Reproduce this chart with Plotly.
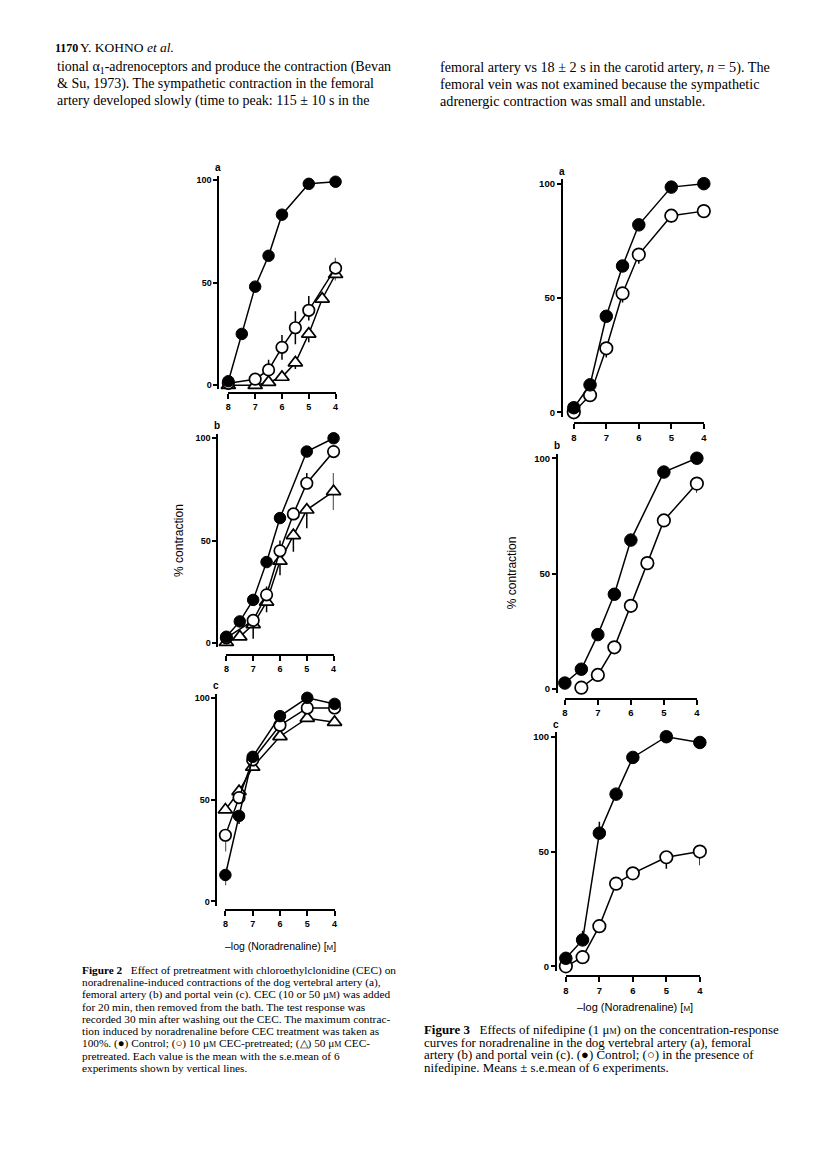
import plotly.graph_objects as go

# page is rendered inside a body with an 8px margin -> shift everything by 8px
OFF = 8
FW, FH = 816 - OFF, 1156 - OFF

# ---------------- data ----------------
# Figure 2a  vertebral artery
f2a_ctrl_x = [8, 7.5, 7, 6.5, 6, 5, 4]
f2a_ctrl_y = [2, 25, 48, 63, 83, 98, 99]
f2a_c10_x = [8, 7, 6.5, 6, 5.5, 5, 4]
f2a_c10_y = [1, 3, 7.5, 18.5, 28, 36.5, 57]
f2a_c10_ep = [0, 0, 5, 6, 8, 7, 5]
f2a_c10_em = [0, 0, 0, 6, 8, 5, 0]
f2a_c50_x = [8, 7, 6.5, 6, 5.5, 5, 4.5, 4]
f2a_c50_y = [0, 0, 1.5, 4, 11, 25, 42, 54]
f2a_c50_ep = [0, 0, 0, 0, 0, 0, 0, 3]
f2a_c50_em = [0, 0, 0, 0, 3, 4, 0, 3]

# Figure 2b  femoral artery
f2b_ctrl_x = [8, 7.5, 7, 6.5, 6, 5, 4]
f2b_ctrl_y = [3, 10.5, 21, 39.5, 61, 93.5, 100]
f2b_c10_x = [8, 7, 6.5, 6, 5.5, 5, 4]
f2b_c10_y = [2.5, 11, 23.5, 45, 63, 78, 93.5]
f2b_c10_ep = [0, 0, 4, 5, 0, 5, 0]
f2b_c10_em = [0, 0, 0, 0, 0, 0, 0]
f2b_c50_x = [8, 7.5, 7, 6.5, 6, 5.5, 5, 4]
f2b_c50_y = [0.3, 3, 9, 20, 40, 52.5, 65, 74]
f2b_c50_ep = [0, 0, 0, 0, 0, 0, 0, 9]
f2b_c50_em = [0, 0, 7, 5, 7, 8, 9, 9]

# Figure 2c  portal vein
f2c_ctrl_x = [8, 7.5, 7, 6, 5, 4]
f2c_ctrl_y = [13, 42, 71, 91, 100, 97]
f2c_ctrl_ep = [0, 0, 0, 0, 0, 0]
f2c_ctrl_em = [5, 4, 0, 0, 0, 0]
f2c_c10_x = [8, 7.5, 7, 6, 5, 4]
f2c_c10_y = [32.5, 51, 69.5, 86.5, 95, 95]
f2c_c10_ep = [0, 0, 0, 0, 0, 0]
f2c_c10_em = [8, 0, 0, 0, 0, 0]
f2c_c50_x = [8, 7.5, 7, 6, 5, 4]
f2c_c50_y = [45, 54, 66, 81, 90, 88]

# Figure 3a  vertebral artery
f3a_ctrl_x = [8, 7.5, 7, 6.5, 6, 5, 4]
f3a_ctrl_y = [2, 12, 42, 64, 82, 98.5, 100]
f3a_nif_x = [8, 7.5, 7, 6.5, 6, 5, 4]
f3a_nif_y = [0, 7.5, 28, 52, 69, 86, 88]
f3a_nif_em = [0, 0, 4, 4, 4, 3, 3]

# Figure 3b  femoral artery
f3b_ctrl_x = [8, 7.5, 7, 6.5, 6, 5, 4]
f3b_ctrl_y = [2.5, 8.5, 23.5, 41, 64.5, 94, 100]
f3b_nif_x = [7.5, 7, 6.5, 6, 5.5, 5, 4]
f3b_nif_y = [0.5, 6, 18, 36, 54.5, 73, 89]
f3b_nif_em = [0, 0, 0, 0, 0, 0, 4]

# Figure 3c  portal vein
f3c_ctrl_x = [8, 7.5, 7, 6.5, 6, 5, 4]
f3c_ctrl_y = [3.5, 11.5, 58, 75, 91, 100, 97.5]
f3c_ctrl_ep = [0, 4, 5, 0, 0, 0, 0]
f3c_nif_x = [8, 7.5, 7, 6.5, 6, 5, 4]
f3c_nif_y = [0, 4, 17.5, 36, 40.5, 47.5, 50]
f3c_nif_em = [0, 0, 0, 0, 0, 5, 6]

x_ticks = [8, 7, 6, 5, 4]
y_ticks = [0, 50, 100]

# ---------------- figure ----------------
fig = go.Figure()
SANS = "Liberation Sans, Arial, sans-serif"
SERIF = "Liberation Serif, Times New Roman, serif"


def px(xp):
    return (xp - OFF) / FW


def py(yp):
    return 1 - (yp - OFF) / FH


def err(plus=None, minus=None):
    if plus is None and minus is None:
        return None
    return dict(type="data", array=plus if plus is not None else [0] * len(minus),
                arrayminus=minus if minus is not None else [0] * len(plus),
                symmetric=False, width=0, thickness=1.5, color="black")


def add_series(n, x, y, kind, plus=None, minus=None, size=11.5):
    if kind == "filled":
        marker = dict(symbol="circle", size=size, color="black", line=dict(color="black", width=1))
    elif kind == "open":
        marker = dict(symbol="circle", size=size, color="white", line=dict(color="black", width=1.7))
    else:
        marker = dict(symbol="triangle-up", size=size + 1, color="white", line=dict(color="black", width=1.7))
    fig.add_trace(go.Scatter(
        x=x, y=y, mode="lines+markers", xaxis=f"x{n}", yaxis=f"y{n}",
        line=dict(color="black", width=1.5), marker=marker,
        error_y=err(plus, minus), cliponaxis=False, showlegend=False, hoverinfo="skip"))


def setup_panel(n, px8, px4, py0, py100, pyline, pxline, letter, fs=9):
    p = (py0 - py100) / 100.0
    bot = py0 + 2 * p
    top = py100 - 2 * p
    xname = "xaxis" if n == 1 else f"xaxis{n}"
    yname = "yaxis" if n == 1 else f"yaxis{n}"
    fig.update_layout(**{
        xname: dict(domain=[px(px8), px(px4)], range=[8, 4], anchor="free",
                    position=py(pxline), showline=True, linewidth=2, linecolor="black",
                    ticks="outside", ticklen=5, tickwidth=1.8, tickcolor="black",
                    tickvals=x_ticks, showgrid=False, zeroline=False,
                    tickfont=dict(family=SANS, size=fs, color="black", weight="bold")),
        yname: dict(domain=[py(bot), py(top)], range=[-2, 102], anchor="free",
                    position=px(pyline), showline=True, linewidth=2, linecolor="black",
                    ticks="outside", ticklen=4, tickwidth=1.8, tickcolor="black",
                    tickvals=y_ticks, showgrid=False, zeroline=False,
                    tickfont=dict(family=SANS, size=fs, color="black", weight="bold")),
    })
    fig.add_annotation(x=px(pyline), y=py(py100 - 5), xref="paper", yref="paper",
                       text=f"<b>{letter}</b>", showarrow=False, xanchor="center", yanchor="bottom",
                       font=dict(family=SANS, size=10, color="black"))


# Figure 2 panels
setup_panel(1, 227, 335, 385, 179, 217, 393, "a")
setup_panel(2, 225, 333, 643, 438, 216, 655, "b")
setup_panel(3, 224, 334, 902, 698, 215, 911, "c")
# Figure 3 panels
setup_panel(4, 575, 706, 412, 183, 563, 423, "a", 9.5)
setup_panel(5, 566, 699, 689, 458, 558, 699, "b", 9.5)
setup_panel(6, 567, 702, 967, 737, 557, 977, "c", 9.5)

add_series(1, f2a_c50_x, f2a_c50_y, "tri", f2a_c50_ep, f2a_c50_em)
add_series(1, f2a_c10_x, f2a_c10_y, "open", f2a_c10_ep, f2a_c10_em)
add_series(1, f2a_ctrl_x, f2a_ctrl_y, "filled")

add_series(2, f2b_c50_x, f2b_c50_y, "tri", f2b_c50_ep, f2b_c50_em)
add_series(2, f2b_c10_x, f2b_c10_y, "open", f2b_c10_ep, f2b_c10_em)
add_series(2, f2b_ctrl_x, f2b_ctrl_y, "filled")

add_series(3, f2c_c50_x, f2c_c50_y, "tri")
add_series(3, f2c_c10_x, f2c_c10_y, "open", f2c_c10_ep, f2c_c10_em)
add_series(3, f2c_ctrl_x, f2c_ctrl_y, "filled", f2c_ctrl_ep, f2c_ctrl_em)

add_series(4, f3a_nif_x, f3a_nif_y, "open", None, f3a_nif_em, 12.5)
add_series(4, f3a_ctrl_x, f3a_ctrl_y, "filled", size=12.5)

add_series(5, f3b_nif_x, f3b_nif_y, "open", None, f3b_nif_em, 12.5)
add_series(5, f3b_ctrl_x, f3b_ctrl_y, "filled", size=12.5)

add_series(6, f3c_nif_x, f3c_nif_y, "open", None, f3c_nif_em, 12.5)
add_series(6, f3c_ctrl_x, f3c_ctrl_y, "filled", f3c_ctrl_ep, None, 12.5)

# axis titles
for xp, yp in [(168, 540), (513, 573)]:
    fig.add_annotation(x=px(xp), y=py(yp), xref="paper", yref="paper", text="% contraction",
                       textangle=-90, showarrow=False, font=dict(family=SANS, size=12, color="black"))
SM = "<span style='font-size:8px'>M</span>"
for xp, yp, fs in [(280, 947, 10.5), (637, 1008, 11)]:
    fig.add_annotation(x=px(xp), y=py(yp), xref="paper", yref="paper",
                       text=f"\u2013log (Noradrenaline) [{SM}]",
                       showarrow=False, xanchor="center", yanchor="middle",
                       font=dict(family=SANS, size=fs, color="black"))


# page text
def txt(xp, yp, s, size=12.5, family=SERIF):
    fig.add_annotation(x=px(xp), y=py(yp), xref="paper", yref="paper", text=s,
                       showarrow=False, xanchor="left", yanchor="middle", align="left",
                       font=dict(family=family, size=size, color="black"))


txt(50, 47, "<b>1170</b>", 12)
txt(76, 47, "Y. KOHNO <i>et al.</i>", 13.5)

left_lines = [
    "tional \u03b1<sub>1</sub>-adrenoceptors and produce the contraction (Bevan",
    "&amp; Su, 1973). The sympathetic contraction in the femoral",
    "artery developed slowly (time to peak: 115 \u00b1 10 s in the",
]
right_lines = [
    "femoral artery vs 18 \u00b1 2 s in the carotid artery, <i>n</i> = 5). The",
    "femoral vein was not examined because the sympathetic",
    "adrenergic contraction was small and unstable.",
]
for i, s in enumerate(left_lines):
    txt(52, 67 + i * 16.5, s, 14)
for i, s in enumerate(right_lines):
    txt(438, 67 + i * 16.5, s, 14.2)

muM = "\u03bc" + SM
cap2 = [
    "<b>Figure 2</b>   Effect of pretreatment with chloroethylclonidine (CEC) on",
    "noradrenaline-induced contractions of the dog vertebral artery (a),",
    f"femoral artery (b) and portal vein (c). CEC (10 or 50 {muM}) was added",
    "for 20 min, then removed from the bath. The test response was",
    "recorded 30 min after washing out the CEC. The maximum contrac-",
    "tion induced by noradrenaline before CEC treatment was taken as",
    f"100%. (\u25cf) Control; (\u25cb) 10 {muM} CEC-pretreated; (\u25b3) 50 {muM} CEC-",
    "pretreated. Each value is the mean with the s.e.mean of 6",
    "experiments shown by vertical lines.",
]
for i, s in enumerate(cap2):
    txt(78, 971 + i * 12.25, s, 11.3)

cap3 = [
    f"<b>Figure 3</b>   Effects of nifedipine (1 {muM}) on the concentration-response",
    "curves for noradrenaline in the dog vertebral artery (a), femoral",
    "artery (b) and portal vein (c). (\u25cf) Control; (\u25cb) in the presence of",
    "nifedipine. Means \u00b1 s.e.mean of 6 experiments.",
]
for i, s in enumerate(cap3):
    txt(422, 1031 + i * 12.5, s, 12.9)

fig.update_layout(width=FW, height=FH, margin=dict(l=0, r=0, t=0, b=0),
                  paper_bgcolor="white", plot_bgcolor="white", showlegend=False)

fig.write_html("out.html")
